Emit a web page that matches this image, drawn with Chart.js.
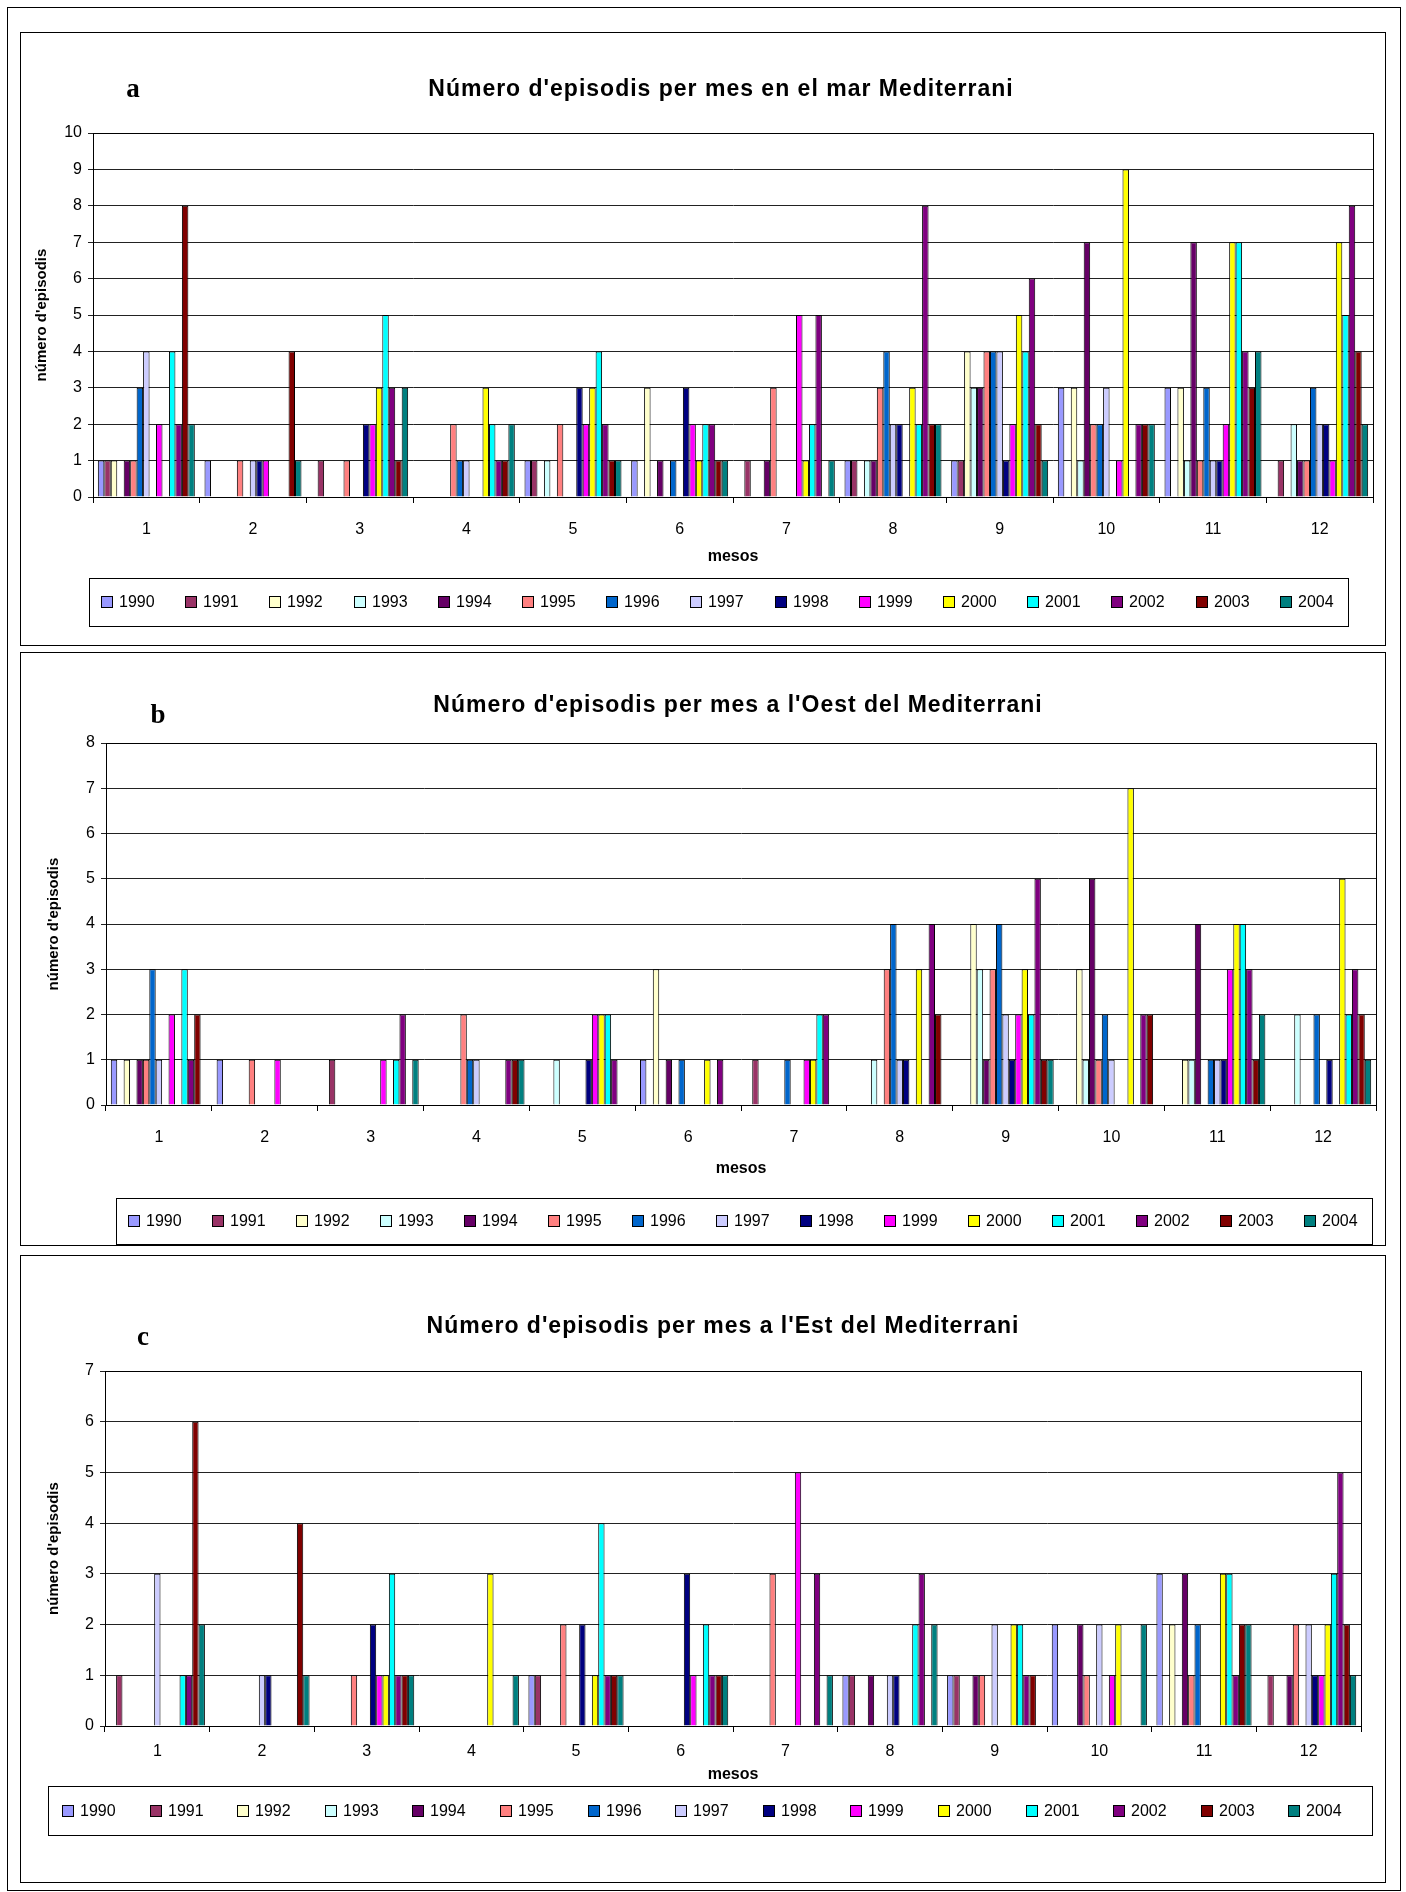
<!DOCTYPE html>
<html>
<head>
<meta charset="utf-8">
<script src="https://cdn.jsdelivr.net/npm/chart.js@4.4.1/dist/chart.umd.min.js"></script>
<style>
  body { margin: 0; background: #fff; width: 1406px; height: 1892px; position: relative; overflow: hidden; }
  #frame { position: absolute; left: 7px; top: 7px; width: 1392px; height: 1882px; border: 1px solid #000; }
  canvas { position: absolute; }
</style>
</head>
<body>
<div id="frame"></div>
<canvas id="chartA" width="1366" height="614" style="left:20px;top:32px;width:1366px;height:614px"></canvas>
<canvas id="chartB" width="1366" height="594" style="left:20px;top:652px;width:1366px;height:594px"></canvas>
<canvas id="chartC" width="1366" height="628" style="left:20px;top:1255px;width:1366px;height:628px"></canvas>
<script>
Chart.defaults.font.family = "'Liberation Sans', Arial, sans-serif";
Chart.defaults.color = '#000';

// Categories and series
const months = ['1', '2', '3', '4', '5', '6', '7', '8', '9', '10', '11', '12'];
const years = ['1990', '1991', '1992', '1993', '1994', '1995', '1996', '1997',
               '1998', '1999', '2000', '2001', '2002', '2003', '2004'];
const yearColors = ['#9999FF', '#993366', '#FFFFCC', '#CCFFFF', '#660066', '#FF8080', '#0066CC', '#CCCCFF',
                    '#000080', '#FF00FF', '#FFFF00', '#00FFFF', '#800080', '#800000', '#008080'];

// One row per month, one column per year (1990 .. 2004)
const totalByMonth = [
    [1, 1, 1, 0, 1, 1, 3, 4, 0, 2, 0, 4, 2, 8, 2],
    [1, 0, 0, 0, 0, 1, 0, 1, 1, 1, 0, 0, 0, 4, 1],
    [0, 1, 0, 0, 0, 1, 0, 0, 2, 2, 3, 5, 3, 1, 3],
    [0, 0, 0, 0, 0, 2, 1, 1, 0, 0, 3, 2, 1, 1, 2],
    [1, 1, 0, 1, 0, 2, 0, 0, 3, 2, 3, 4, 2, 1, 1],
    [1, 0, 3, 0, 1, 0, 1, 0, 3, 2, 1, 2, 2, 1, 1],
    [0, 1, 0, 0, 1, 3, 0, 0, 0, 5, 1, 2, 5, 0, 1],
    [1, 1, 0, 1, 1, 3, 4, 2, 2, 0, 3, 2, 8, 2, 2],
    [1, 1, 4, 3, 3, 4, 4, 4, 1, 2, 5, 4, 6, 2, 1],
    [3, 0, 3, 1, 7, 2, 2, 3, 0, 1, 9, 0, 2, 2, 2],
    [3, 0, 3, 1, 7, 1, 3, 1, 1, 2, 7, 7, 4, 3, 4],
    [0, 1, 0, 2, 1, 1, 3, 2, 2, 1, 7, 5, 8, 4, 2]
];
const westByMonth = [
    [1, 0, 1, 0, 1, 1, 3, 1, 0, 2, 0, 3, 1, 2, 0],
    [1, 0, 0, 0, 0, 1, 0, 0, 0, 1, 0, 0, 0, 0, 0],
    [0, 1, 0, 0, 0, 0, 0, 0, 0, 1, 0, 1, 2, 0, 1],
    [0, 0, 0, 0, 0, 2, 1, 1, 0, 0, 0, 0, 1, 1, 1],
    [0, 0, 0, 1, 0, 0, 0, 0, 1, 2, 2, 2, 1, 0, 0],
    [1, 0, 3, 0, 1, 0, 1, 0, 0, 0, 1, 0, 1, 0, 0],
    [0, 1, 0, 0, 0, 0, 1, 0, 0, 1, 1, 2, 2, 0, 0],
    [0, 0, 0, 1, 0, 3, 4, 1, 1, 0, 3, 0, 4, 2, 0],
    [0, 0, 4, 3, 1, 3, 4, 2, 1, 2, 3, 2, 5, 1, 1],
    [0, 0, 3, 1, 5, 1, 2, 1, 0, 0, 7, 0, 2, 2, 0],
    [0, 0, 1, 1, 4, 0, 1, 1, 1, 3, 4, 4, 3, 1, 2],
    [0, 0, 0, 2, 0, 0, 2, 0, 1, 0, 5, 2, 3, 2, 1]
];
const eastByMonth = [
    [0, 1, 0, 0, 0, 0, 0, 3, 0, 0, 0, 1, 1, 6, 2],
    [0, 0, 0, 0, 0, 0, 0, 1, 1, 0, 0, 0, 0, 4, 1],
    [0, 0, 0, 0, 0, 1, 0, 0, 2, 1, 1, 3, 1, 1, 1],
    [0, 0, 0, 0, 0, 0, 0, 0, 0, 0, 3, 0, 0, 0, 1],
    [1, 1, 0, 0, 0, 2, 0, 0, 2, 0, 1, 4, 1, 1, 1],
    [0, 0, 0, 0, 0, 0, 0, 0, 3, 1, 0, 2, 1, 1, 1],
    [0, 0, 0, 0, 0, 3, 0, 0, 0, 5, 0, 0, 3, 0, 1],
    [1, 1, 0, 0, 1, 0, 0, 1, 1, 0, 0, 2, 3, 0, 2],
    [1, 1, 0, 0, 1, 1, 0, 2, 0, 0, 2, 2, 1, 1, 0],
    [2, 0, 0, 0, 2, 1, 0, 2, 0, 1, 2, 0, 0, 0, 2],
    [3, 0, 2, 0, 3, 1, 2, 0, 0, 0, 3, 3, 1, 2, 2],
    [0, 1, 0, 0, 1, 2, 0, 2, 1, 1, 2, 3, 5, 2, 1]
];

// Box round each panel, frame round the plot area
const panelFrame = {
    id: 'panelFrame',
    beforeDraw(chart) {
        const c = chart.ctx;
        c.save();
        c.strokeStyle = '#000';
        c.lineWidth = 1;
        c.strokeRect(0.5, 0.5, chart.width - 1, chart.height - 1);
        c.restore();
    },
    afterDraw(chart) {
        const c = chart.ctx, a = chart.chartArea;
        c.save();
        c.strokeStyle = '#000';
        c.lineWidth = 1;
        c.strokeRect(Math.round(a.left) + 0.5, Math.round(a.top) + 0.5,
                     Math.round(a.right - a.left), Math.round(a.bottom - a.top));
        c.restore();
    }
};

// Title and the panel letter
const panelText = {
    id: 'panelText',
    afterDraw(chart, args, opts) {
        const c = chart.ctx;
        c.save();
        c.fillStyle = '#000';
        c.textAlign = 'center';
        c.textBaseline = 'middle';
        c.font = "bold 23px 'Liberation Sans', Arial, sans-serif";
        c.letterSpacing = '1px';
        c.fillText(opts.title, opts.titleX, opts.titleY);
        c.letterSpacing = '0px';
        c.font = "bold 27px 'Liberation Serif', 'Times New Roman', serif";
        c.fillText(opts.letter, opts.letterX, opts.letterY);
        c.restore();
    }
};

// Excel style legend in a bordered box
const boxLegend = {
    id: 'boxLegend',
    afterDraw(chart, args, opts) {
        const c = chart.ctx;
        c.save();
        c.strokeStyle = '#000';
        c.lineWidth = 1;
        c.strokeRect(opts.x + 0.5, opts.y + 0.5, opts.w, opts.h);
        c.font = "16px 'Liberation Sans', Arial, sans-serif";
        c.textBaseline = 'middle';
        c.textAlign = 'left';
        const mid = opts.y + opts.h / 2;
        chart.data.datasets.forEach((ds, i) => {
            const sx = Math.round(opts.x + opts.first + i * opts.step);
            c.fillStyle = ds.backgroundColor;
            c.fillRect(sx, Math.round(mid - 6), 11, 11);
            c.strokeRect(sx + 0.5, Math.round(mid - 6) + 0.5, 11, 11);
            c.fillStyle = '#000';
            c.fillText(ds.label, sx + 18, mid + 1);
        });
        c.restore();
    }
};

function makeChart(id, rows, cfg) {
    const canvas = document.getElementById(id);
    const W = canvas.width, H = canvas.height;
    const xAxisHeight = 75;

    return new Chart(canvas, {
        type: 'bar',
        data: {
            labels: months,
            datasets: years.map((y, yi) => ({
                label: y,
                data: rows.map(r => (r[yi] === 0 ? null : r[yi])),
                backgroundColor: yearColors[yi],
                borderColor: '#000',
                borderWidth: 1,
                categoryPercentage: 15 / 16.5,
                barPercentage: 1
            }))
        },
        options: {
            responsive: false,
            animation: false,
            devicePixelRatio: 1,
            layout: {
                padding: {
                    left: 0,
                    top: cfg.area.top,
                    right: W - cfg.area.right,
                    bottom: H - cfg.area.bottom - xAxisHeight
                }
            },
            plugins: {
                legend: { display: false },
                tooltip: { enabled: false },
                panelText: cfg.text,
                boxLegend: cfg.legend
            },
            scales: {
                x: {
                    grid: { offset: true, drawOnChartArea: false, color: '#000', tickLength: 6 },
                    border: { color: '#000' },
                    ticks: { color: '#000', font: { size: 16 }, padding: cfg.xTickPad },
                    title: {
                        display: true, text: 'mesos', color: '#000',
                        font: { size: 16, weight: 'bold' },
                        padding: { top: 0, bottom: cfg.mesosPad }
                    },
                    afterFit: s => { s.height = xAxisHeight; }
                },
                y: {
                    min: 0,
                    max: cfg.max,
                    ticks: { stepSize: 1, color: '#000', font: { size: 16 }, padding: 6 },
                    grid: { color: '#222', tickLength: 5 },
                    border: { color: '#000' },
                    title: {
                        display: true, text: "número d'episodis", color: '#000',
                        font: { size: 15, weight: 'bold' },
                        padding: { top: cfg.yTitlePad, bottom: 0 }
                    },
                    afterFit: s => { s.width = cfg.area.left; }
                }
            }
        },
        plugins: [panelFrame, panelText, boxLegend]
    });
}

makeChart('chartA', totalByMonth, {
    max: 10,
    area: { left: 73, right: 1353, top: 101, bottom: 465 },
    xTickPad: 17, mesosPad: 6, yTitlePad: 13,
    text: { title: "Número d'episodis per mes en el mar Mediterrani", titleX: 701, titleY: 58,
            letter: 'a', letterX: 113, letterY: 58 },
    legend: { x: 69, y: 546, w: 1259, h: 48, first: 12, step: 84.2 }
});

makeChart('chartB', westByMonth, {
    max: 8,
    area: { left: 86, right: 1356, top: 91, bottom: 453 },
    xTickPad: 17, mesosPad: 2, yTitlePad: 25,
    text: { title: "Número d'episodis per mes a l'Oest del Mediterrani", titleX: 718, titleY: 54,
            letter: 'b', letterX: 138, letterY: 64 },
    legend: { x: 96, y: 546, w: 1256, h: 46, first: 12, step: 84 }
});

makeChart('chartC', eastByMonth, {
    max: 7,
    area: { left: 85, right: 1341, top: 116, bottom: 471 },
    xTickPad: 10, mesosPad: 17, yTitlePad: 25,
    text: { title: "Número d'episodis per mes a l'Est del Mediterrani", titleX: 703, titleY: 72,
            letter: 'c', letterX: 123, letterY: 83 },
    legend: { x: 28, y: 531, w: 1324, h: 49, first: 14, step: 87.6 }
});
</script>
</body>
</html>
